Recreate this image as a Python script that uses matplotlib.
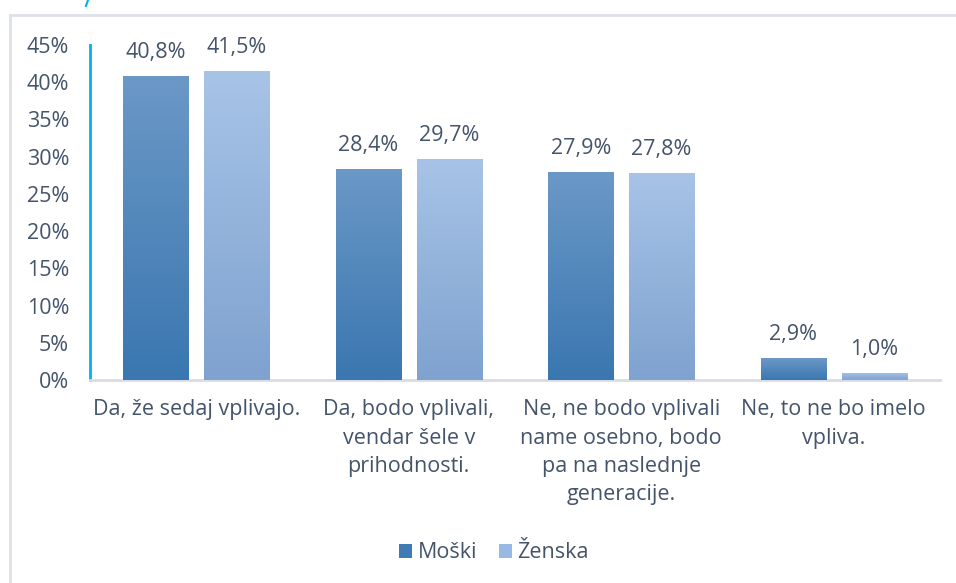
import matplotlib.pyplot as plt
import numpy as np
from matplotlib.lines import Line2D

# data
categories = ["Da, že sedaj vplivajo.",
              "Da, bodo vplivali,\nvendar šele v\nprihodnosti.",
              "Ne, ne bodo vplivali\nname osebno, bodo\npa na naslednje\ngeneracije.",
              "Ne, to ne bo imelo\nvpliva."]
moski = [40.8, 28.4, 27.9, 2.9]
zenska = [41.5, 29.7, 27.8, 1.0]
series_names = ["Moški", "Ženska"]

plt.rcParams['font.family'] = ['Open Sans', 'DejaVu Sans']
txt_col = '#44546a'
fs = 15.5

fig = plt.figure(figsize=(9.56, 5.83), dpi=100)
W, H = 956, 583
ax = fig.add_axes([90 / W, 1 - 380 / H, 850 / W, 335 / H])

x = np.arange(len(categories))
bw = 0.306
off = 0.19

# gradient colours (top, bottom)
grads = [('#6b98c7', '#3a77b0'), ('#a7c4e7', '#7fa2cf')]
legend_cols = ['#3f7cb5', '#98b9e3']

for k, vals in enumerate([moski, zenska]):
    xs = x + (off if k else -off)
    bars = ax.bar(xs, vals, width=bw, color=legend_cols[k], label=series_names[k], zorder=2)
    top = np.array(plt.matplotlib.colors.to_rgb(grads[k][0]))
    bot = np.array(plt.matplotlib.colors.to_rgb(grads[k][1]))
    t = np.linspace(0, 1, 100)[:, None]
    img = (top * (1 - t) + bot * t)[:, None, :]
    for b, v in zip(bars, vals):
        im = ax.imshow(img, extent=[b.get_x(), b.get_x() + bw, 0, v],
                       aspect='auto', zorder=3, interpolation='bilinear')
        im.set_clip_path(b)
        ax.text(b.get_x() + bw / 2, v + 1.75, f"{v:.1f}%".replace('.', ','),
                ha='center', va='bottom', fontsize=fs, color=txt_col)

ax.set_xlim(-0.5, 3.5)
ax.set_ylim(0, 45)
ax.set_yticks(range(0, 46, 5))
ax.set_yticklabels([f"{v}%" for v in range(0, 46, 5)], fontsize=fs, color=txt_col)
ax.set_xticks(x)
ax.set_xticklabels(categories, fontsize=fs, color=txt_col, linespacing=1.45, va='top')
ax.tick_params(length=0, pad=15, axis='y')
ax.tick_params(length=0, pad=14, axis='x')
for s in ['top', 'right']:
    ax.spines[s].set_visible(False)
ax.spines['left'].set_color('#00b0f0')
ax.spines['left'].set_linewidth(2)
ax.spines['bottom'].set_color('#d9dce3')
ax.spines['bottom'].set_linewidth(2)

leg = fig.legend(loc='center', bbox_to_anchor=(494 / W, 1 - 553 / H), ncol=2, frameon=False,
                 fontsize=fs, handlelength=0.6, handleheight=0.6, handletextpad=0.25,
                 columnspacing=1.0)
for t_ in leg.get_texts():
    t_.set_color(txt_col)

# outer frame
fig.add_artist(Line2D([10 / W, 10 / W], [0, 1 - 15 / H], color='#dde1e8', lw=2))
fig.add_artist(Line2D([10 / W, 1], [1 - 15 / H, 1 - 15 / H], color='#dde1e8', lw=2))
fig.add_artist(Line2D([88 / W, 86 / W], [1, 1 - 6 / H], color='#00b0f0', lw=1.5))

fig.savefig('out.png', dpi=100)
